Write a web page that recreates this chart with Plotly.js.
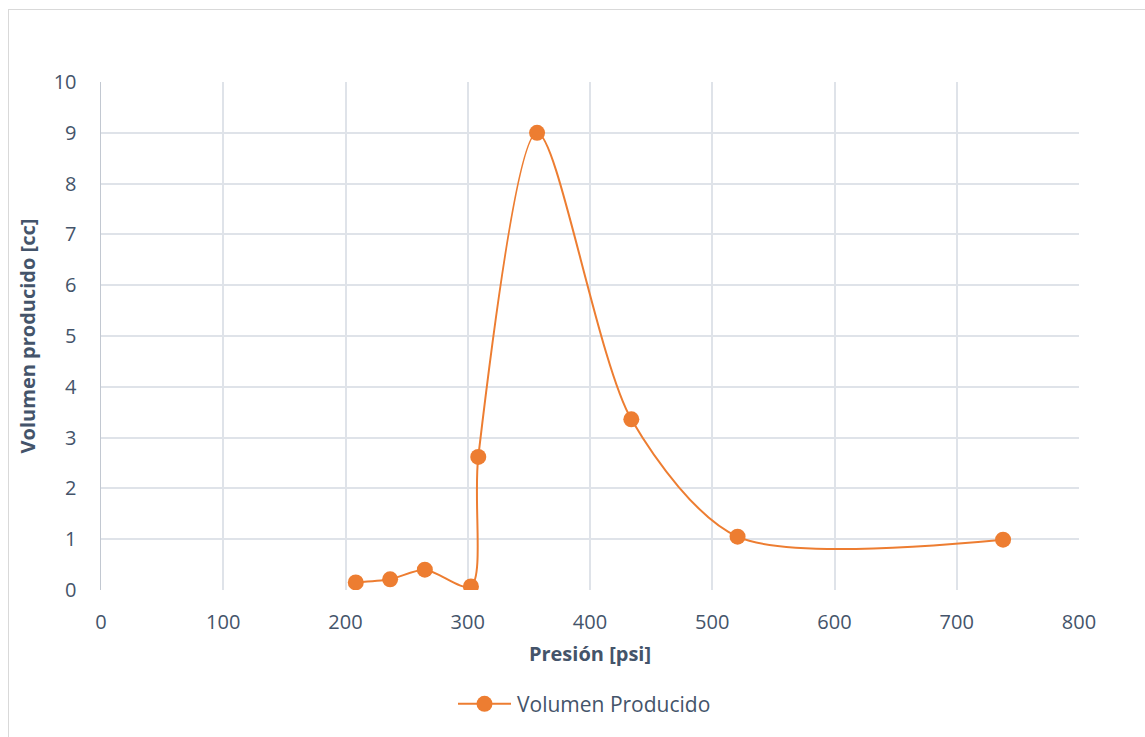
<!DOCTYPE html>
<html>
<head>
<meta charset="utf-8">
<script src="https://cdn.plot.ly/plotly-3.0.1.min.js"></script>
<style>
  html, body { margin: 0; padding: 0; background: #ffffff; overflow: hidden; }
  #wrap { position: relative; width: 1145px; height: 737px; }
  #chart { width: 1145px; height: 737px; }
  #frame {
    position: absolute; left: 8px; top: 9px; width: 1150px; height: 740px;
    border: 1px solid #d9d9d9; pointer-events: none; box-sizing: border-box;
  }
</style>
</head>
<body>
<div id="wrap">
  <div id="chart"></div>
  <div id="frame"></div>
</div>
<script>
// Pressure (psi) and produced volume (cc)
const presion = [208.4, 236.5, 264.9, 302.6, 308.6, 356.7, 433.8, 520.7, 737.9];
const volumen = [0.15, 0.21, 0.40, 0.07, 2.62, 9.00, 3.36, 1.05, 0.99];
const serieNombre = 'Volumen Producido';
const xTicks = [0, 100, 200, 300, 400, 500, 600, 700, 800];
const yTicks = [0, 1, 2, 3, 4, 5, 6, 7, 8, 9, 10];

const textColor = '#44546A';
const gridColor = '#dfe3e9';
const font = 'Open Sans, sans-serif';

const trace = {
  x: presion,
  y: volumen,
  type: 'scatter',
  mode: 'lines+markers',
  name: serieNombre,
  line: { color: '#ED7D31', width: 2, shape: 'spline', smoothing: 0.8 },
  marker: { color: '#ED7D31', size: 16 }
};

const layout = {
  width: 1145,
  height: 737,
  paper_bgcolor: '#ffffff',
  plot_bgcolor: '#ffffff',
  margin: { l: 101, r: 66, t: 82, b: 147 },
  font: { family: font, color: textColor, size: 20 },
  showlegend: true,
  legend: {
    orientation: 'h', x: 0.5, xanchor: 'center', y: -0.225, yanchor: 'middle',
    font: { family: font, size: 21, color: textColor }
  },
  xaxis: {
    range: [0, 800],
    tickvals: xTicks,
    ticktext: xTicks.map(String),
    showgrid: true, gridcolor: gridColor, gridwidth: 2,
    zeroline: false, showline: false,
    ticks: 'outside', ticklen: 14, tickcolor: 'rgba(0,0,0,0)',
    tickfont: { family: font, size: 20, color: textColor },
    title: { text: '<b>Presión [psi]</b>', font: { family: font, size: 20, color: textColor }, standoff: 12 }
  },
  yaxis: {
    range: [0, 10],
    tickvals: yTicks,
    ticktext: yTicks.map(String),
    showgrid: true, gridcolor: gridColor, gridwidth: 2,
    zeroline: false,
    showline: true, linecolor: '#c2c8d1', linewidth: 1.5,
    ticks: 'outside', ticklen: 19, tickcolor: 'rgba(0,0,0,0)',
    tickfont: { family: font, size: 20, color: textColor },
    title: { text: '<b>Volumen producido [cc]</b>', font: { family: font, size: 20, color: textColor }, standoff: 12 }
  }
};

Plotly.newPlot('chart', [trace], layout, { displayModeBar: false, staticPlot: true }).then(function (gd) {
  // Lengthen the legend line sample so it runs through the marker on both sides
  gd.querySelectorAll('.legend .scrollbox, .legend').forEach(function (e) { e.removeAttribute('clip-path'); });
  const item = gd.querySelector('.legend .traces');
  if (!item) return;
  const line = item.querySelector('.legendlines path');
  const pt = item.querySelector('.legendpoints path');
  const txt = item.querySelector('text.legendtext');
  let cx = 20;
  if (pt) {
    const m = /translate\(([-\d.]+)/.exec(pt.getAttribute('transform') || '');
    if (m) cx = parseFloat(m[1]);
  }
  const half = 26.5;
  if (line) line.setAttribute('d', 'M' + (cx - half) + ',0h' + (2 * half));
  if (txt) {
    const tx = cx + half + 6;
    txt.setAttribute('x', tx);
    txt.querySelectorAll('tspan').forEach(function (t) { if (t.hasAttribute('x')) t.setAttribute('x', tx); });
  }
  // Place the legend so the sample line starts where the legend block begins
  const legend = gd.querySelector('g.legend');
  if (legend && line) {
    const r = line.getBoundingClientRect();
    const tb = txt ? txt.getBoundingClientRect() : null;
    const m = /translate\(([-\d.]+),\s*([-\d.]+)\)/.exec(legend.getAttribute('transform') || '');
    if (m) {
      const dx = 458 - r.left;
      const dy = tb ? 704 - (tb.top + tb.bottom) / 2 : 0;
      legend.setAttribute('transform', 'translate(' + (parseFloat(m[1]) + dx) + ',' + (parseFloat(m[2]) + dy) + ')');
    }
  }
});
</script>
</body>
</html>
